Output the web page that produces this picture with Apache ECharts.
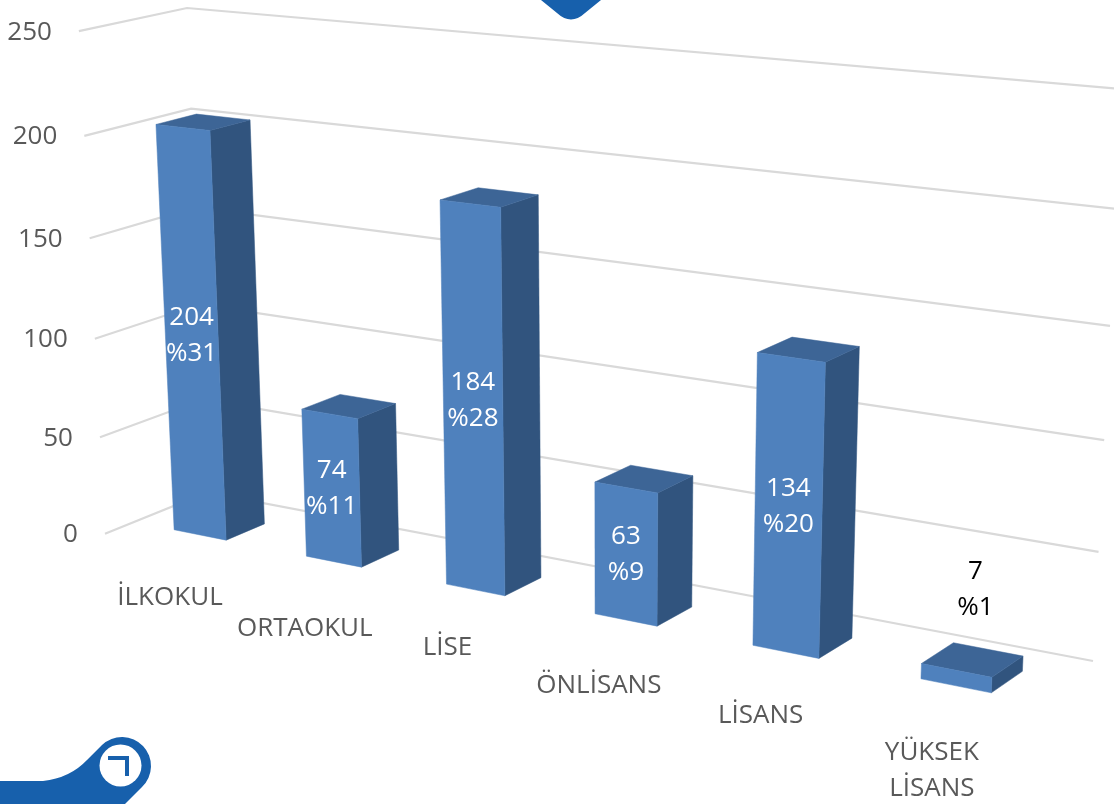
<!DOCTYPE html>
<html>
<head>
<meta charset="utf-8">
<title>Eğitim durumu</title>
<script src="https://cdn.jsdelivr.net/npm/echarts@6/dist/echarts.min.js"></script>
<style>
html, body { margin: 0; background: #fff; }
#chart { width: 1114px; height: 804px; }
</style>
</head>
<body>
<div id="chart"></div>
<script>
const categories = ['İLKOKUL', 'ORTAOKUL', 'LİSE', 'ÖNLİSANS', 'LİSANS', 'YÜKSEK\nLİSANS']
const counts = [204, 74, 184, 63, 134, 7]
const shares = [31, 11, 28, 9, 20, 1]
const yTicks = [0, 50, 100, 150, 200, 250]

// Excel staggers its category labels, offset from the bar's front bottom edge
const labelNudge = [[-30, 63], [-29, 67], [-28, 58], [-27, 66], [-25, 64], [-24, 85]]

const FONT = '"Open Sans", "Noto Sans", sans-serif'
const GRID = { left: 0, top: 0, width: 1000, height: 500 }
const BAR_FRONT = 0.72
const BAR_BACK = 0.34
const LOGO_BLUE = '#1760ac'

// camera fitted to the picture: X along the floor, Y up, Z from back wall to viewer (all 0..1)
const project = (X, Y, Z) => {
  const w = 1 - 0.15969 * X - 0.04745 * Y - 0.038 * Z
  return [
    (711.46 * X - 28.87 * Y + 207 - 106 * Z) / w,
    (62.94 * X - 484.88 * Y + 492.5 + 20.9 * Z) / w
  ]
}

// hidden cartesian pixels -> unit floor/height
const unitX = px => ((px - GRID.left) / GRID.width) * 1.0066 + 0.002
const unitY = py => 1 - (py - GRID.top) / GRID.height

const renderWall = (params, api) => {
  const value = api.value(1)
  const Y = unitY(api.coord([0, value])[1])
  const start = project(0, Y, 1)
  const corner = project(0, Y, 0)
  const end = project(1, Y, 0)
  return {
    type: 'group',
    children: [{
      type: 'polyline',
      shape: { points: [start, corner, end] },
      style: { fill: null, stroke: '#d9d9d9', lineWidth: 2.2 }
    }, {
      type: 'text',
      style: {
        text: String(value),
        x: start[0] - 27,
        y: start[1] + 1,
        align: 'right',
        verticalAlign: 'middle',
        fill: '#595959',
        fontSize: 26,
        fontFamily: FONT
      }
    }]
  }
}

const face = (points, fill) => ({
  type: 'polygon',
  shape: { points },
  style: { fill, stroke: fill, lineWidth: 0.5 }
})

const renderBar = (params, api) => {
  const i = api.value(0)
  const value = api.value(1)
  const base = api.coord([i, 0])
  const top = api.coord([i, value])
  const half = (api.size([1, 0])[0] * 0.4) / 2

  const X0 = unitX(base[0] - half)
  const X1 = unitX(base[0] + half)
  const Xc = unitX(base[0])
  const Y = unitY(top[1])

  const footFront = project(Xc, 0, BAR_FRONT)
  const topFront = project(Xc, Y, BAR_FRONT)
  const small = value < 20
  const valuePos = small
    ? [topFront[0] + 19, topFront[1] - 81]
    : project(Xc, Y / 2, BAR_FRONT)
  const nudge = labelNudge[i]

  return {
    type: 'group',
    children: [
      face([project(X1, 0, BAR_FRONT), project(X1, 0, BAR_BACK), project(X1, Y, BAR_BACK), project(X1, Y, BAR_FRONT)], '#31547e'),
      face([project(X0, Y, BAR_FRONT), project(X1, Y, BAR_FRONT), project(X1, Y, BAR_BACK), project(X0, Y, BAR_BACK)], '#3d6596'),
      face([project(X0, 0, BAR_FRONT), project(X1, 0, BAR_FRONT), project(X1, Y, BAR_FRONT), project(X0, Y, BAR_FRONT)], '#4f81bd'),
      {
        type: 'text',
        style: {
          text: value + '\n%' + shares[i],
          x: valuePos[0],
          y: valuePos[1],
          align: 'center',
          verticalAlign: 'middle',
          lineHeight: 36,
          fill: small ? '#000' : '#fff',
          fontSize: 26,
          fontFamily: FONT
        }
      },
      {
        type: 'text',
        style: {
          text: categories[i],
          x: footFront[0] + nudge[0],
          y: footFront[1] + nudge[1],
          align: 'center',
          verticalAlign: 'middle',
          lineHeight: 36,
          fill: '#595959',
          fontSize: 26,
          fontFamily: FONT
        }
      }
    ]
  }
}

// the page's logo shapes, cut off at the picture's edges
const renderLogo = () => ({
  type: 'group',
  children: [{
    type: 'path',
    shape: { pathData: 'M541,0 L557,13 Q571,26 585,13 L601,0 Z' },
    style: { fill: LOGO_BLUE }
  }, {
    type: 'path',
    shape: { pathData: 'M0,804 L0,781 L43,781 Q70,778 87,760 L102,745 A29,29 0 0 1 142,787 L125,804 Z' },
    style: { fill: LOGO_BLUE }
  }, {
    type: 'circle',
    shape: { cx: 120.5, cy: 765.5, r: 21 },
    style: { fill: '#fff' }
  }, {
    type: 'polyline',
    shape: { points: [[108, 758], [127, 758], [127, 776]] },
    style: { fill: null, stroke: LOGO_BLUE, lineWidth: 4 }
  }]
})

const option = {
  animation: false,
  backgroundColor: '#fff',
  grid: GRID,
  xAxis: { type: 'category', data: categories, show: false },
  yAxis: { type: 'value', min: 0, max: 250, interval: 50, show: false },
  series: [{
    type: 'custom',
    silent: true,
    z: 1,
    renderItem: renderWall,
    encode: { x: 0, y: 1 },
    data: yTicks.map(v => [0, v])
  }, {
    type: 'custom',
    silent: true,
    z: 2,
    renderItem: renderBar,
    encode: { x: 0, y: 1 },
    data: counts.map((v, i) => [i, v])
  }, {
    type: 'custom',
    silent: true,
    coordinateSystem: 'none',
    z: 3,
    renderItem: renderLogo,
    data: [0]
  }]
}

const chart = echarts.init(document.getElementById('chart'))
chart.setOption(option)
</script>
</body>
</html>
